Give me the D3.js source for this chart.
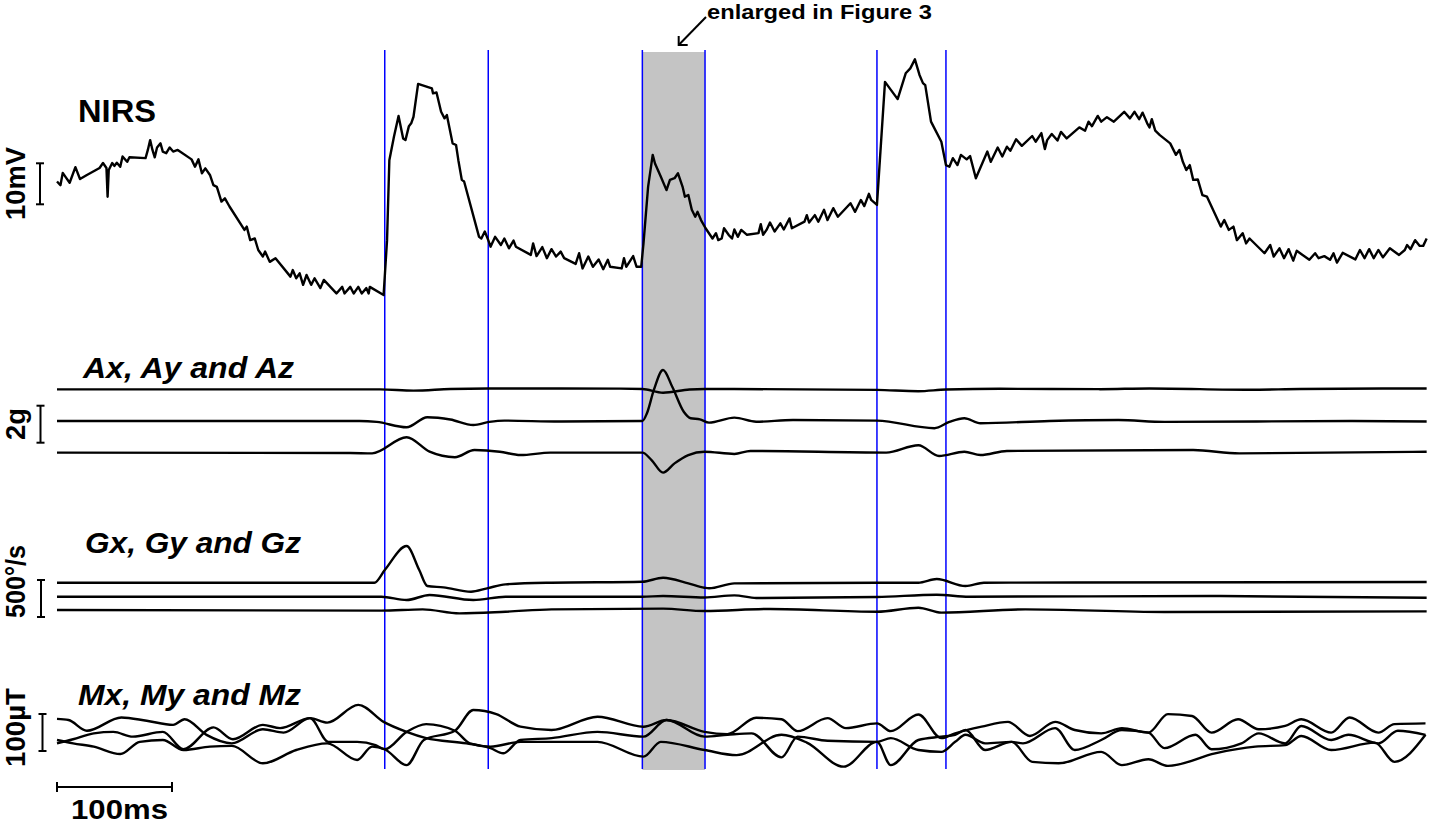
<!DOCTYPE html>
<html><head><meta charset="utf-8">
<script src="https://cdn.jsdelivr.net/npm/d3@7"></script>
<style>body{margin:0;background:#fff}text{font-family:"Liberation Sans",Arial,sans-serif;font-weight:bold}</style>
</head><body>
<svg id="c" width="1429" height="825"></svg>
<script>
// time in ms, NIRS in mV
const nirs = [[0,28.9],[3,28.0],[5,31.0],[8,29.8],[11,28.6],[16,32.4],[20,29.5],[26,30.5],[37,32.2],[40,33.4],[43,32.2],[44,25.2],[45,31.7],[48,33.4],[50,32.7],[52,33.5],[55,32.5],[57,35.0],[61,33.7],[63,34.8],[77,34.6],[79,36.6],[81,39.0],[83,36.6],[85,34.8],[87,37.2],[90,38.2],[92,36.2],[95,35.8],[98,37.2],[101,36.2],[105,36.6],[117,34.3],[120,32.5],[123,34.3],[126,30.9],[129,32.1],[133,30.5],[136,28.0],[139,27.6],[143,24.0],[146,24.8],[150,22.8],[163,17.1],[165,17.9],[168,14.6],[172,15.0],[175,12.2],[179,10.6],[181,11.8],[185,9.3],[190,10.2],[203,5.7],[205,7.3],[208,5.3],[211,6.5],[214,3.7],[217,6.1],[221,3.7],[224,5.3],[229,2.9],[232,4.9],[243,1.6],[248,3.2],[250,1.6],[255,3.2],[258,1.6],[262,3.2],[265,1.6],[269,2.9],[271,1.6],[272,3.2],[284,1.2],
[287,14.6],[289,34.1],[293,39.8],[297,44.9],[301,39.4],[303,39.0],[306,42.4],[308,43.1],[310,44.7],[314,52.7],[326,51.6],[327,50.4],[330,50.6],[334,45.9],[337,44.3],[339,45.1],[344,38.2],[347,37.8],[349,34.1],[352,29.3],[354,28.9],[367,15.4],[369,15.0],[372,16.7],[375,14.6],[377,13.0],[381,15.4],[386,13.4],[389,15.0],[393,12.6],[397,14.5],[399,13.0],[412,11.0],[414,13.8],[417,10.7],[422,12.9],[426,10.2],[430,12.4],[434,10.6],[438,11.8],[441,10.2],[451,8.8],[454,11.4],[457,7.7],[462,10.6],[466,8.1],[471,9.9],[475,7.5],[479,9.8],[481,8.1],[491,7.7],[493,10.2],[495,8.1],[501,10.7],[504,8.1],[508,8.1],
[510,13.8],[514,27.6],[518,35.4],[520,33.3],[525,30.1],[530,26.8],[533,29.3],[537,29.7],[540,30.9],[544,27.6],[546,25.2],[549,25.6],[552,22.0],[555,20.3],[557,21.5],[560,19.5],[564,17.5],[570,15.0],[573,16.3],[575,14.6],[578,15.0],[580,17.5],[584,15.9],[587,15.0],[589,17.2],[592,15.4],[595,17.1],[600,15.9],[610,16.3],[612,18.5],[614,15.9],[617,17.1],[620,18.9],[624,16.7],[629,18.7],[632,17.2],[637,19.9],[639,17.5],[650,19.1],[652,20.7],[654,18.9],[659,20.7],[662,19.1],[667,22.0],[670,19.5],[675,22.4],[679,20.3],[690,23.6],[694,21.5],[699,24.4],[702,22.9],[706,25.9],[708,24.4],[713,23.2],
[720,53.2],[731,49.0],[738,55.3],[742,56.5],[746,58.7],[750,54.9],[753,52.9],[755,52.4],[760,43.5],[769,38.6],[773,32.9],[776,32.5],[779,34.6],[783,32.9],[786,35.4],[791,34.3],[794,35.1],[799,29.7],[809,36.2],[812,33.7],[818,37.2],[822,35.0],[826,37.4],[829,36.4],[834,39.2],[839,37.6],[848,40.0],[851,38.6],[856,40.7],[859,36.8],[861,39.0],[865,40.5],[870,38.9],[873,41.0],[878,39.4],[889,42.1],[894,41.3],[897,43.5],[900,42.4],[905,44.9],[908,43.5],[913,44.6],[919,43.5],[928,45.9],[933,44.3],[937,45.9],[941,44.1],[944,45.7],[948,43.1],[950,42.1],[952,44.1],[955,41.3],[959,40.2],[968,38.2],[973,35.4],[976,36.6],[979,33.7],[982,31.7],[985,32.9],[988,29.3],[992,29.4],[996,25.6],[1000,25.2],[1012,17.9],[1015,19.5],[1019,17.1],[1023,17.9],[1026,14.6],[1031,16.3],[1034,13.8],[1037,15.0],[1050,11.4],[1055,13.4],[1058,10.6],[1063,12.6],[1067,10.2],[1071,12.4],[1075,9.6],[1078,12.0],[1089,9.8],[1094,11.4],[1097,10.2],[1102,10.7],[1107,9.8],[1110,11.4],[1113,9.1],[1118,11.5],[1129,9.9],[1133,12.2],[1137,10.2],[1141,12.4],[1145,10.2],[1149,12.2],[1153,10.4],[1159,12.6],[1167,11.0],[1172,12.2],[1174,13.4],[1177,12.4],[1181,14.6],[1185,13.2],[1188,13.2],[1191,15.0]];

// accelerometer, g
const accX = [[0,3.44],[281,3.44],[310,3.37],[342,3.46],[375,3.49],[490,3.48],[509,3.46],[527,3.26],[550,3.43],[563,3.46],[646,3.44],[713,3.41],[749,3.34],[773,3.43],[820,3.47],[907,3.45],[950,3.49],[1037,3.42],[1081,3.46],[1191,3.49]];
const accY = [[0,1.73],[263,1.73],[278,1.68],[304,1.39],[322,1.93],[342,1.81],[362,1.51],[376,1.68],[389,1.75],[437,1.70],[509,1.73],[513,2.15],[519,3.41],[527,4.49],[535,3.58],[545,2.23],[551,1.88],[559,1.82],[567,1.64],[589,1.91],[608,1.69],[640,1.78],[713,1.75],[763,1.34],[776,1.68],[789,1.88],[803,1.61],[863,1.73],[923,1.78],[963,1.68],[1125,1.73],[1191,1.70]];
const accZ = [[0,0.02],[255,0],[274,-0.02],[304,0.85],[324,0.07],[346,-0.23],[363,0.16],[385,0.07],[403,-0.11],[429,0.02],[509,0.02],[517,-0.38],[527,-1.06],[537,-0.56],[549,-0.11],[563,0.07],[589,-0.05],[603,0.11],[721,0.02],[749,0.42],[767,-0.16],[789,0.07],[803,-0.11],[826,0.11],[988,0.16],[1028,-0.02],[1191,0.07]];

// gyroscope, deg/s
const gyroX = [[0,369],[276,369],[285,540],[304,864],[315,540],[322,324],[336,306],[360,247],[374,293],[390,347],[430,369],[509,382],[527,436],[549,360],[563,301],[567,293],[589,360],[713,369],[749,369],[765,419],[790,324],[806,369],[1191,378]];
const gyroY = [[0,180],[282,180],[304,135],[324,203],[362,135],[390,180],[509,180],[527,189],[563,169],[589,198],[608,162],[713,176],[765,207],[793,180],[1003,189],[1191,166]];
const gyroZ = [[0,0],[282,-9],[318,9],[350,-45],[390,-23],[430,9],[527,18],[563,-14],[620,14],[713,-23],[749,31],[769,-36],[842,9],[963,-27],[1191,-18]];

// magnetometer, uT
const magX = [[0,-9],[14,2],[32,18],[49,22],[66,9],[92,22],[110,-25],[136,34],[153,2],[179,41],[194,32],[220,59],[235,47],[262,95],[284,49],[304,22],[321,5],[356,-9],[377,-22],[388,-36],[403,0],[430,5],[470,22],[510,9],[530,54],[563,9],[583,14],[604,18],[630,-47],[644,9],[670,-2],[713,-5],[725,5],[749,-27],[769,-32],[781,-5],[790,14],[807,-9],[830,-5],[848,-59],[871,-63],[908,-32],[926,-68],[949,-52],[966,-70],[1007,-36],[1042,-18],[1068,-14],[1082,11],[1108,-27],[1146,-7],[1163,-59],[1190,14]];
const magY = [[0,57],[10,54],[26,25],[56,61],[78,52],[101,41],[111,56],[130,14],[152,-9],[179,29],[197,20],[220,59],[236,-5],[261,-5],[277,-14],[285,-25],[304,22],[321,43],[346,25],[359,-9],[377,-18],[403,-5],[430,-5],[470,-5],[510,-45],[525,-5],[563,-27],[591,-41],[630,14],[652,-7],[684,-72],[713,-5],[725,-68],[749,0],[769,9],[781,14],[790,27],[807,-27],[830,-5],[840,-9],[868,32],[885,-27],[908,0],[926,27],[949,20],[963,-22],[990,14],[1004,-25],[1030,-9],[1045,18],[1068,-9],[1082,38],[1108,0],[1123,14],[1149,-9],[1166,25],[1190,14]];
const magZ = [[0,0],[14,-9],[32,-18],[55,-38],[72,-5],[92,0],[110,-27],[133,-18],[152,-16],[179,-63],[208,-27],[235,-9],[261,-54],[274,-18],[285,-25],[304,-68],[319,0],[346,25],[362,81],[382,70],[403,36],[430,27],[470,63],[510,36],[530,54],[563,22],[583,16],[608,60],[630,56],[644,24],[670,59],[686,32],[713,45],[725,24],[749,69],[769,5],[781,18],[804,36],[827,49],[846,11],[868,49],[885,27],[908,18],[926,32],[949,20],[966,70],[987,65],[1004,20],[1027,56],[1045,29],[1068,38],[1082,56],[1108,20],[1124,61],[1149,20],[1163,43],[1190,45]];

const markers = [285, 375, 509, 563.5, 713, 773];
const enlarged = [509, 563.5];
const panelTitles = ["NIRS", "Ax, Ay and Az", "Gx, Gy and Gz", "Mx, My and Mz"];
const scaleLabels = ["10mV", "2g", "500°/s", "100µT"];
const scaleSizes = [10, 2, 500, 100];
const timeBarMs = 100;
const timeLabel = "100ms";
const note = "enlarged in Figure 3";

const svg = d3.select("#c");
const x = d3.scaleLinear().domain([0, 1191]).range([57, 57 + 1191 * 1.15]);
const yN = d3.scaleLinear().domain([0, 10]).range([300, 259]);
const yA = d3.scaleLinear().domain([0, 2]).range([453, 416]);
const yG = d3.scaleLinear().domain([0, 500]).range([610, 573]);
const yM = d3.scaleLinear().domain([0, 100]).range([740, 703]);

// shaded region
svg.append("rect").attr("x", x(enlarged[0])).attr("y", 52)
  .attr("width", x(enlarged[1]) - x(enlarged[0])).attr("height", 718)
  .attr("fill", "#c4c4c4");

// marker lines
svg.selectAll("line.mk").data(markers).join("line").attr("class", "mk")
  .attr("x1", d => x(d)).attr("x2", d => x(d)).attr("y1", 50).attr("y2", 769)
  .attr("stroke", "#0000ff").attr("stroke-width", 1.5);

function trace(data, y, curve, w) {
  svg.append("path").datum(data)
    .attr("d", d3.line().x(d => x(d[0])).y(d => y(d[1])).curve(curve))
    .attr("fill", "none").attr("stroke", "#000").attr("stroke-width", w)
    .attr("stroke-linejoin", "round");
}
trace(nirs, yN, d3.curveLinear, 2.4);
[accX, accY, accZ].forEach(s => trace(s, yA, d3.curveMonotoneX, 2.4));
[gyroX, gyroY, gyroZ].forEach(s => trace(s, yG, d3.curveMonotoneX, 2.4));
[magX, magY, magZ].forEach(s => trace(s, yM, d3.curveMonotoneX, 2.4));

// titles
const titlePos = [[78, 122, "normal", 31], [83, 378, "italic", 30], [85, 553, "italic", 30], [78, 705, "italic", 30]];
const titleLen = [78, 211, 216, 223];
panelTitles.forEach((t, i) => {
  svg.append("text").attr("x", titlePos[i][0]).attr("y", titlePos[i][1])
    .attr("font-size", titlePos[i][3]).attr("font-style", titlePos[i][2])
    .attr("textLength", titleLen[i]).attr("lengthAdjust", "spacingAndGlyphs").text(t);
});

// vertical scale bars
const bars = [[40, 163.3, yN], [40.5, 405.7, yA], [41, 580, yG], [42.5, 714, yM]];
const labelY = [183.5, 424, 581.5, 727.5];
const labelLen = [73, 32, 73, 79];
bars.forEach((b, i) => {
  const len = b[2](0) - b[2](scaleSizes[i]);
  const g = svg.append("g").attr("stroke", "#000").attr("stroke-width", 2);
  g.append("line").attr("x1", b[0]).attr("x2", b[0]).attr("y1", b[1]).attr("y2", b[1] + len);
  g.append("line").attr("x1", b[0] - 4).attr("x2", b[0] + 4).attr("y1", b[1]).attr("y2", b[1]);
  g.append("line").attr("x1", b[0] - 4).attr("x2", b[0] + 4).attr("y1", b[1] + len).attr("y2", b[1] + len);
  svg.append("text").attr("transform", `translate(25,${labelY[i]}) rotate(-90)`)
    .attr("text-anchor", "middle").attr("font-size", 27)
    .attr("textLength", labelLen[i]).attr("lengthAdjust", "spacingAndGlyphs").text(scaleLabels[i]);
});

// time scale bar
const tb = svg.append("g").attr("stroke", "#000").attr("stroke-width", 2);
const tx0 = x(0), tx1 = x(timeBarMs);
tb.append("line").attr("x1", tx0).attr("x2", tx1).attr("y1", 787).attr("y2", 787);
tb.append("line").attr("x1", tx0).attr("x2", tx0).attr("y1", 782).attr("y2", 792);
tb.append("line").attr("x1", tx1).attr("x2", tx1).attr("y1", 782).attr("y2", 792);
svg.append("text").attr("x", 71).attr("y", 819)
  .attr("font-size", 27).attr("textLength", 97).attr("lengthAdjust", "spacingAndGlyphs").text(timeLabel);

// annotation
svg.append("text").attr("x", 707).attr("y", 19).attr("font-size", 21).attr("textLength", 225)
  .attr("lengthAdjust", "spacingAndGlyphs").text(note);
const ax = (enlarged[0] + enlarged[1]) / 2;
const ar = svg.append("g").attr("stroke", "#000").attr("stroke-width", 2).attr("fill", "none");
ar.append("line").attr("x1", 706).attr("y1", 17).attr("x2", x(ax) + 5).attr("y2", 45);
ar.append("path").attr("d", `M${x(ax) + 5},36 L${x(ax) + 5},45 L${x(ax) + 14},45`);
</script>
</body></html>
